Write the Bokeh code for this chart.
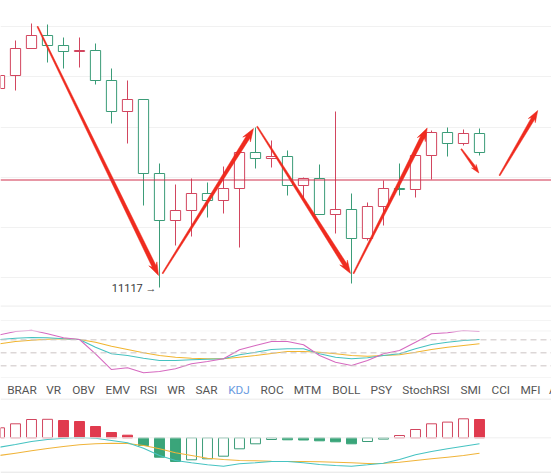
import math
from bokeh.plotting import figure
from bokeh.layouts import column
from bokeh.models import Span, FixedTicker, Range1d, Grid
from bokeh.core.properties import value
from bokeh.embed import file_html
from bokeh.resources import INLINE

# ---------------- data ----------------
idx = list(range(31))
open_ = [11515, 11541, 11595, 11621, 11601, 11589, 11591, 11531, 11469, 11493,
         11345, 11251, 11271, 11305, 11291, 11315, 11387, 11375, 11379, 11321,
         11335, 11263, 11273, 11215, 11279, 11315, 11313, 11381, 11427, 11405, 11425]
high = [11547, 11611, 11645, 11643, 11617, 11617, 11605, 11555, 11531, 11493,
        11365, 11323, 11335, 11327, 11359, 11387, 11437, 11411, 11391, 11337,
        11363, 11469, 11305, 11287, 11331, 11365, 11391, 11431, 11437, 11433, 11435]
low = [11507, 11511, 11595, 11567, 11555, 11557, 11523, 11445, 11405, 11281,
       11117, 11201, 11219, 11257, 11265, 11197, 11355, 11357, 11301, 11291,
       11263, 11225, 11125, 11211, 11241, 11301, 11297, 11333, 11379, 11401, 11381]
close = [11541, 11595, 11621, 11601, 11589, 11591, 11531, 11469, 11493, 11345,
         11251, 11271, 11305, 11291, 11315, 11387, 11375, 11379, 11321, 11335,
         11263, 11273, 11215, 11279, 11315, 11313, 11381, 11427, 11405, 11425, 11387]

ref_level = 11332
low_label = "11117 \u2192"
low_index = 10
price_grid = [11137, 11237, 11338, 11438, 11539, 11640]

# annotation arrows (index, price): start -> tip
arrow_x0 = [2.375, 10.19, 16.1, 22.125, 28.86, 31.25]
arrow_y0 = [11639, 11145, 11439, 11145, 11394, 11341]
arrow_x1 = [9.94, 15.875, 21.94, 26.73, 29.96, 33.64]
arrow_y1 = [11141, 11435, 11145, 11436, 11346, 11471]
arrow_size = [1.0, 1.0, 1.0, 1.0, 0.65, 0.9]

k_vals = [80.8, 83.8, 85.4, 84.7, 82.4, 80.8, 63.0, 47.8, 43.8, 37.6, 32.3, 32.3, 33.9,
          35.3, 36.2, 45.5, 51.5, 57.7, 59.3, 59.3, 47.8, 39.9, 36.2, 38.5, 43.8, 47.8,
          59.3, 69.2, 74.5, 78.5, 80.8]
d_vals = [70.8, 76.2, 79.2, 81.5, 82.4, 80.8, 74.5, 65.3, 57.7, 50.1, 43.8, 39.9, 37.6,
          36.2, 36.2, 39.9, 43.8, 48.5, 53.1, 53.1, 51.5, 47.8, 43.8, 42.2, 43.8, 45.5,
          51.5, 57.7, 63.0, 66.9, 70.8]
j_vals = [91.6, 99.2, 102.2, 93.9, 84.7, 80.8, 47.8, 11.5, 15.5, 3.9, 6.9, 13.2, 24.7,
          30.0, 36.2, 57.0, 66.9, 76.2, 76.2, 68.5, 43.8, 28.4, 20.8, 32.3, 47.8, 55.4,
          74.5, 93.9, 96.2, 101.5, 99.2]
kdj_levels = [80, 50, 20]

macd_hist = [10.0, 14.0, 18.3, 18.5, 17.3, 16.3, 11.3, 5.3, 2.6, -7.7, -19.4, -23.7, -22.0,
             -21.0, -18.4, -11.0, -6.0, -1.7, -2.0, -2.2, -3.0, -4.0, -6.0, -3.7, -1.3,
             2.3, 8.3, 14.0, 15.7, 19.0, 18.3]
dif = [-9.4, -6.7, -3.7, -1.7, -0.4, 0.3, -0.4, -2.7, -5.0, -10.4, -17.7, -22.7, -25.0,
       -27.0, -28.4, -26.0, -25.0, -23.7, -23.7, -25.0, -26.7, -27.7, -28.4, -27.0, -25.4,
       -21.7, -17.0, -13.7, -11.0, -8.4, -6.0]
dea = [-17.7, -15.4, -13.0, -10.7, -8.7, -7.0, -6.0, -5.4, -5.7, -7.7, -11.0, -15.0, -17.7,
       -20.4, -21.7, -22.7, -23.0, -23.4, -23.7, -23.7, -24.0, -24.4, -25.0, -25.7, -25.4,
       -24.4, -22.7, -21.0, -19.4, -17.7, -15.4]

tabs = ["BRAR", "VR", "OBV", "EMV", "RSI", "WR", "SAR", "KDJ", "ROC", "MTM", "BOLL",
        "PSY", "StochRSI", "SMI", "CCI", "MFI", "ASI"]
tab_left = [6.7, 45.7, 71.7, 105, 139.3, 166.7, 195, 227.7, 260, 293.3, 331.7, 370,
            401.7, 460, 491, 520, 548.5]
active_tab = "KDJ"

# ---------------- style ----------------
RED = "#d2465f"
GREEN = "#3b9c78"
RED_FILL = "#e03a4e"
GREEN_FILL = "#3aa57a"
ARROW_RED = "#ef2b1f"
LINE_GREY = "#e4e4e4"
FONT = "Roboto"

W = 551
H_MAIN, H_KDJ, H_TAB, H_MACD = 305, 73, 20, 76
X0, X1 = 0.0625, 34.5
x_range = Range1d(X0, X1)


def make_fig(h, yr, xr=None):
    f = figure(width=W, height=h, x_range=xr if xr is not None else x_range, y_range=yr,
               toolbar_location=None, output_backend="svg", x_axis_type=None,
               y_axis_type=None, min_border=0, outline_line_color=None,
               background_fill_color="white", border_fill_color="white")
    f.grid.visible = False
    return f


# ---------------- main candlestick panel ----------------
P0, P1 = 11081, 11691
p = make_fig(H_MAIN, Range1d(P0, P1))
p.add_layout(Grid(dimension=1, ticker=FixedTicker(ticks=price_grid),
                  grid_line_color="#f1f1f1", grid_line_width=1))

colors = [RED if c >= o else GREEN for o, c in zip(open_, close)]
p.segment(x0=idx, y0=high, x1=idx, y1=low, color=colors, line_width=1)
p.vbar(x=idx, width=0.64, top=[max(o, c) for o, c in zip(open_, close)],
       bottom=[min(o, c) for o, c in zip(open_, close)],
       fill_color="white", line_color=colors, line_width=1)

p.add_layout(Span(location=ref_level, dimension="width", line_color="#d0304c", line_width=1))

p.text(x=[low_index], y=[low[low_index]], text=[low_label], text_align="right",
       text_baseline="middle", x_offset=-3, y_offset=1, text_font=value(FONT),
       text_font_size="11px", text_color="#3a3a3a")

# tapered red arrows, built in screen space then mapped back to data
sx = W / (X1 - X0)
sy = H_MAIN / (P1 - P0)
axs, ays = [], []
for xs_, ys_, xe_, ye_, s in zip(arrow_x0, arrow_y0, arrow_x1, arrow_y1, arrow_size):
    Sx, Sy = (xs_ - X0) * sx, (ys_ - P0) * sy
    Ex, Ey = (xe_ - X0) * sx, (ye_ - P0) * sy
    dx, dy = Ex - Sx, Ey - Sy
    L = math.hypot(dx, dy)
    ux, uy = dx / L, dy / L
    nx, ny = -uy, ux
    head_len, head_w, neck_w, tail_w = 13 * s, 9 * s, 4.2 * s, 1.2
    Nx, Ny = Ex - ux * head_len * 0.78, Ey - uy * head_len * 0.78
    Bx, By = Ex - ux * head_len, Ey - uy * head_len
    pts = [(Sx + nx * tail_w / 2, Sy + ny * tail_w / 2),
           (Nx + nx * neck_w / 2, Ny + ny * neck_w / 2),
           (Bx + nx * head_w / 2, By + ny * head_w / 2),
           (Ex, Ey),
           (Bx - nx * head_w / 2, By - ny * head_w / 2),
           (Nx - nx * neck_w / 2, Ny - ny * neck_w / 2),
           (Sx - nx * tail_w / 2, Sy - ny * tail_w / 2)]
    axs.append([X0 + a / sx for a, b in pts])
    ays.append([P0 + b / sy for a, b in pts])
p.patches(xs=axs, ys=ays, fill_color=ARROW_RED, line_color=ARROW_RED, line_width=0.5)

# ---------------- KDJ panel ----------------
k = make_fig(H_KDJ, Range1d(-9.2, 159.2))
k.add_layout(Span(location=158.2, dimension="width", line_color=LINE_GREY, line_width=1))
k.add_layout(Span(location=-8.4, dimension="width", line_color=LINE_GREY, line_width=1))
for lv in [124.6, 100.5]:
    k.add_layout(Span(location=lv, dimension="width", line_color="#f4f4f4", line_width=1))
for lv in kdj_levels:
    k.add_layout(Span(location=lv, dimension="width", line_color="#cbc3c3",
                      line_width=1, line_dash="6 4"))
k.line(idx, d_vals, line_color="#f1b530", line_width=1.1)
k.line(idx, k_vals, line_color="#45c2c0", line_width=1.1)
k.line(idx, j_vals, line_color="#d66ac0", line_width=1.1)

# ---------------- tab row ----------------
t = make_fig(H_TAB, Range1d(20, 0), xr=Range1d(0, 551))
t.text(x=tab_left, y=[11] * len(tabs), text=tabs, text_align="left",
       text_baseline="middle", text_font=value(FONT), text_font_size="11.8px",
       text_color=["#6a9be0" if s == active_tab else "#555555" for s in tabs])

# ---------------- MACD panel ----------------
m = make_fig(H_MACD, Range1d(-36.7, 39.3))
m.add_layout(Span(location=38.8, dimension="width", line_color=LINE_GREY, line_width=1))
m.add_layout(Span(location=-34.4, dimension="width", line_color=LINE_GREY, line_width=1))
m.add_layout(Span(location=0, dimension="width", line_color="#efefef", line_width=1))

bar_line, bar_fill = [], []
for i, v in enumerate(macd_hist):
    prev = macd_hist[i - 1] if i > 0 else v
    base_line = RED if v >= 0 else GREEN
    solid = RED_FILL if v >= 0 else GREEN_FILL
    filled = i > 0 and v < prev
    bar_line.append(solid if filled else base_line)
    bar_fill.append(solid if filled else "white")
m.vbar(x=idx, width=0.62, top=[max(v, 0) for v in macd_hist],
       bottom=[min(v, 0) for v in macd_hist], fill_color=bar_fill,
       line_color=bar_line, line_width=1)
m.line(idx, dea, line_color="#f0b43a", line_width=1.1)
m.line(idx, dif, line_color="#46c3c2", line_width=1.1)

layout = column(p, k, t, m, spacing=0)
open("out.html", "w").write(file_html(layout, INLINE))
